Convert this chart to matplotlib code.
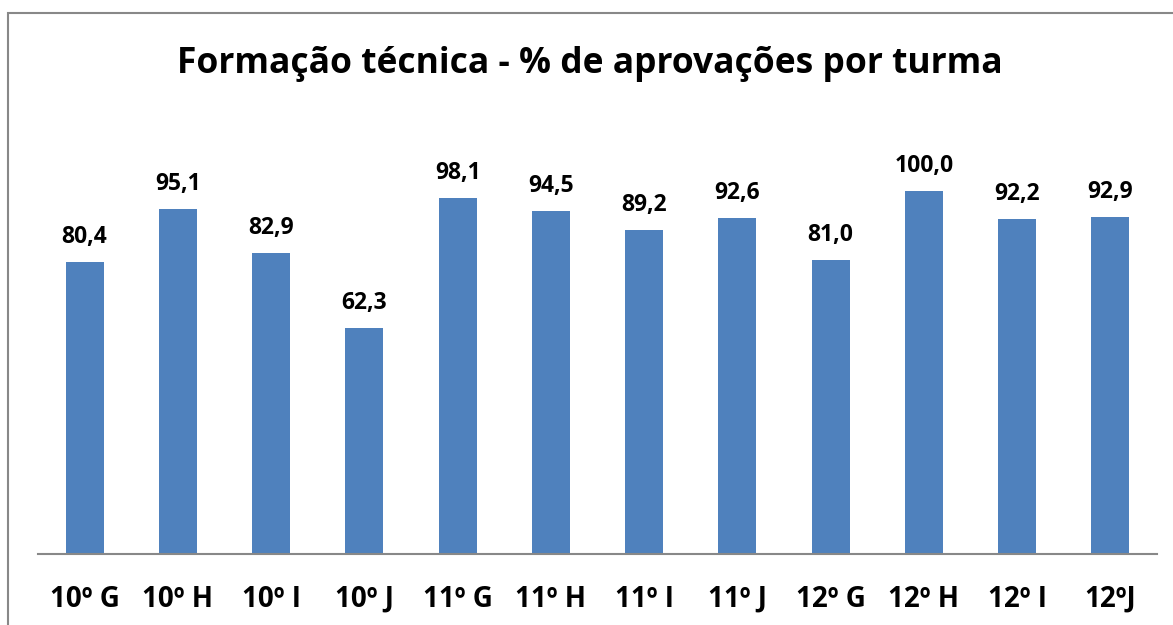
import matplotlib.pyplot as plt
import matplotlib.patches as mpatches

turmas = ['10º G', '10º H', '10º I', '10º J', '11º G', '11º H',
          '11º I', '11º J', '12º G', '12º H', '12º I', '12ºJ']
aprovacoes = [80.4, 95.1, 82.9, 62.3, 98.1, 94.5, 89.2, 92.6, 81.0, 100.0, 92.2, 92.9]

W, H = 1173, 625
fig = plt.figure(figsize=(W / 100, H / 100), dpi=100)
plt.rcParams['font.family'] = ['Open Sans', 'DejaVu Sans']

# grey frame around the chart area (right/bottom edges run off the image)
fig.patches.append(mpatches.Rectangle((8 / W, -0.1), 1.2, 1 - 13 / H + 0.1,
                                      transform=fig.transFigure, fill=False,
                                      edgecolor='#888888', linewidth=1.5))

ax = fig.add_axes([38 / W, (H - 554) / H, (1157 - 38) / W, (554 - 118.4) / H])
x = range(len(turmas))
bars = ax.bar(x, aprovacoes, width=0.41, color='#4F81BD')
ax.set_xlim(-0.5, len(turmas) - 0.5)
ax.set_ylim(0, 120)

for xi, v in zip(x, aprovacoes):
    ax.text(xi, v + 3.6, f'{v:.1f}'.replace('.', ','), ha='center', va='bottom',
            fontsize=16.5, fontweight='bold')

for s in ['top', 'right', 'left']:
    ax.spines[s].set_visible(False)
ax.spines['bottom'].set_color('#888888')
ax.spines['bottom'].set_linewidth(1.5)
ax.set_yticks([])
ax.set_xticks(list(x))
ax.set_xticklabels(turmas, fontsize=20, fontweight='bold')
ax.tick_params(axis='x', length=0, pad=22)

fig.text(590 / W, 1 - 64 / H, 'Formação técnica - % de aprovações por turma',
         ha='center', va='center', fontsize=25.5, fontweight='bold')

fig.savefig('out.png', dpi=100)
